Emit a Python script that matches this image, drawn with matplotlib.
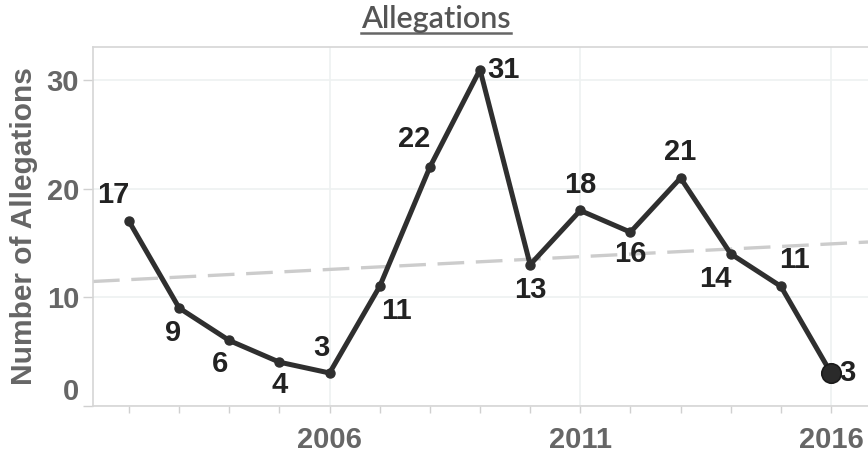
import numpy as np
import matplotlib
matplotlib.use("Agg")
from matplotlib import pyplot as plt
from matplotlib.lines import Line2D

years = [2002, 2003, 2004, 2005, 2006, 2007, 2008, 2009,
         2010, 2011, 2012, 2013, 2014, 2015, 2016]
allegations = [17, 9, 6, 4, 3, 11, 22, 31, 13, 18, 16, 21, 14, 11, 3]
# where each value label sits relative to its point, in pixels
label_offsets = [(-16, 26), (-6, -25), (-9, -24), (0, -23), (-8, 25),
                 (17, -25), (-16, 28), (7, 0), (0, -25), (0, 25),
                 (0, -22), (0, 26), (-15, -25), (14, 26), (8, 0)]
major_years = [2006, 2011, 2016]
y_ticks = [0, 10, 20, 30]

plt.rcParams['font.family'] = ['Liberation Sans', 'DejaVu Sans']

fig = plt.figure(figsize=(8.68, 4.53), dpi=100)
ax = fig.add_axes([93 / 868, 47.5 / 453, 775 / 868, 358.5 / 453])

ax.set_xlim(2001.282, 2016.738)
ax.set_ylim(0, 33.09)

# trend line across the whole plot area
slope, intercept = np.polyfit(years, allegations, 1)
tx = np.array(ax.get_xlim())
ax.plot(tx, slope * tx + intercept, color='#cccccc', lw=2.4,
        dashes=(8, 3.5), zorder=2)

ax.plot(years, allegations, color='#2f2f2f', lw=3.6, marker='o', ms=6.5,
        solid_joinstyle='round', zorder=3)
ax.plot(years[-1], allegations[-1], marker='o', ms=14, color='#2a2a2a',
        mec='#1a1a1a', mew=1.2, zorder=4)

for x, y, (dx, dy) in zip(years, allegations, label_offsets):
    ha = 'left' if dy == 0 else 'center'
    ax.annotate(str(y), (x, y), xytext=(dx, dy), textcoords='offset pixels',
                ha=ha, va='center', fontsize=21, fontweight='bold',
                color='#222222', zorder=5)

ax.set_xticks(major_years)
ax.set_xticks(years, minor=True)
ax.set_yticks(y_ticks)
ax.tick_params(axis='both', which='both', colors='#d0d0d0', labelcolor='#666666',
               labelsize=21)
ax.tick_params(axis='x', which='both', length=5, width=1, pad=10)
ax.tick_params(axis='y', length=7, width=1, pad=3)
for lab in ax.get_xticklabels() + ax.get_yticklabels():
    lab.set_fontweight('bold')
ax.get_yticklabels()[0].set_va('bottom')

ax.grid(True, which='major', color='#eef1f1', lw=1.2, zorder=0)
for side in ['left', 'bottom', 'top']:
    ax.spines[side].set_color('#d6d6d6')
    ax.spines[side].set_linewidth(1.2)
ax.spines['right'].set_visible(False)

ax.set_ylabel('Number of Allegations', fontsize=21.5, fontweight='bold',
              color='#666666', labelpad=6)

title = fig.text(436 / 868, 1 - 19 / 453, 'Allegations', ha='center', va='center',
                 fontsize=22, fontweight='semibold', family=['Lato', 'DejaVu Sans'],
                 color='#555555')
fig.canvas.draw()
bb = title.get_window_extent().transformed(fig.transFigure.inverted())
fig.add_artist(Line2D([bb.x0, bb.x1], [1 - 32.5 / 453] * 2, color='#666666',
                      lw=1.8, transform=fig.transFigure))

fig.savefig('out.png', dpi=100)
